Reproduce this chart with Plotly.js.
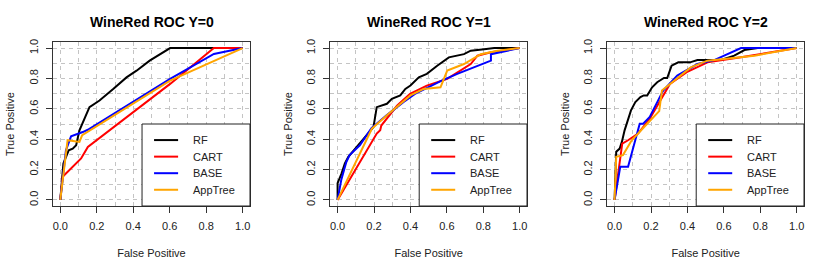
<!DOCTYPE html>
<html>
<head>
<meta charset="utf-8">
<script src="https://cdn.plot.ly/plotly-3.0.1.min.js"></script>
<style>html,body{margin:0;padding:0;background:#fff;}#chart{width:830px;height:260px;}</style>
</head>
<body>
<div id="chart"></div>
<script>
// ---- data ----
const panelTitles = ["WineRed ROC Y=0", "WineRed ROC Y=1", "WineRed ROC Y=2"];
const methods = ["RF", "CART", "BASE", "AppTree"];
const methodColors = ["#000000", "#ff0000", "#0000ff", "#ffa500"];
const tickVals = [0, 0.2, 0.4, 0.6, 0.8, 1.0];

// Y=0
const rf0_x = [0, 0.017, 0.046, 0.068, 0.087, 0.105, 0.16, 0.215, 0.29, 0.363, 0.418, 0.49, 0.602, 1.0];
const rf0_y = [0, 0.24, 0.327, 0.338, 0.36, 0.458, 0.611, 0.655, 0.73, 0.807, 0.851, 0.917, 1.0, 1.0];
const cart0_x = [0, 0.013, 0.114, 0.151, 0.602, 0.842, 1.0];
const cart0_y = [0, 0.153, 0.273, 0.349, 0.764, 1.0, 1.0];
const base0_x = [0, 0.031, 0.059, 0.077, 0.123, 0.151, 0.602, 0.842, 1.0];
const base0_y = [0, 0.327, 0.419, 0.426, 0.447, 0.462, 0.797, 0.961, 1.0];
const app0_x = [0, 0.04, 0.105, 0.12, 0.602, 1.0];
const app0_y = [0, 0.393, 0.382, 0.426, 0.786, 1.0];

// Y=1
const rf1_x = [0, 0, 0.022, 0.04, 0.059, 0.105, 0.197, 0.215, 0.271, 0.298, 0.344, 0.372, 0.4, 0.446, 0.49, 0.547, 0.611, 0.694, 0.731, 0.805, 0.86, 1.0];
const rf1_y = [0, 0.11, 0.175, 0.24, 0.284, 0.35, 0.48, 0.611, 0.633, 0.666, 0.688, 0.731, 0.753, 0.808, 0.83, 0.884, 0.939, 0.96, 0.983, 0.993, 1.0, 1.0];
const cart1_x = [0, 0.215, 0.234, 0.24, 0.326, 0.398, 0.49, 0.602, 0.731, 0.768, 0.842, 1.0];
const cart1_y = [0, 0.437, 0.459, 0.49, 0.62, 0.698, 0.753, 0.797, 0.895, 0.95, 0.972, 1.0];
const base1_x = [0, 0.02, 0.048, 0.066, 0.122, 0.186, 0.269, 0.361, 0.425, 0.563, 0.657, 0.842, 0.842, 1.0];
const base1_y = [0, 0.131, 0.25, 0.295, 0.36, 0.473, 0.557, 0.644, 0.698, 0.781, 0.83, 0.917, 0.96, 1.0];
const app1_x = [0, 0.188, 0.271, 0.4, 0.473, 0.565, 0.602, 0.694, 0.786, 0.878, 1.0];
const app1_y = [0, 0.469, 0.557, 0.688, 0.731, 0.742, 0.852, 0.895, 0.96, 0.983, 1.0];

// Y=2
const rf2_x = [0, 0.009, 0.028, 0.04, 0.055, 0.077, 0.09, 0.114, 0.142, 0.16, 0.179, 0.206, 0.234, 0.271, 0.289, 0.313, 0.35, 0.414, 0.455, 0.584, 0.657, 0.713, 0.786, 1.0];
const rf2_y = [0, 0.317, 0.338, 0.382, 0.458, 0.535, 0.59, 0.644, 0.677, 0.688, 0.688, 0.742, 0.775, 0.803, 0.803, 0.884, 0.906, 0.906, 0.921, 0.921, 0.95, 0.987, 1.0, 1.0];
const cart2_x = [0, 0.031, 0.042, 0.074, 0.129, 0.193, 0.258, 0.304, 0.396, 0.51, 0.694, 1.0];
const cart2_y = [0, 0.262, 0.371, 0.393, 0.437, 0.535, 0.666, 0.764, 0.841, 0.906, 0.939, 1.0];
const base2_x = [0, 0.031, 0.074, 0.138, 0.157, 0.193, 0.258, 0.267, 0.344, 0.455, 0.547, 0.694, 1.0];
const base2_y = [0, 0.218, 0.218, 0.502, 0.502, 0.546, 0.7, 0.72, 0.819, 0.895, 0.921, 1.0, 1.0];
const app2_x = [0, 0.009, 0.046, 0.094, 0.179, 0.245, 0.26, 0.326, 0.418, 0.51, 0.768, 1.0];
const app2_y = [0, 0.284, 0.295, 0.393, 0.502, 0.585, 0.72, 0.786, 0.873, 0.917, 0.95, 1.0];

const panels = [
  [[rf0_x, rf0_y], [cart0_x, cart0_y], [base0_x, base0_y], [app0_x, app0_y]],
  [[rf1_x, rf1_y], [cart1_x, cart1_y], [base1_x, base1_y], [app1_x, app1_y]],
  [[rf2_x, rf2_y], [cart2_x, cart2_y], [base2_x, base2_y], [app2_x, app2_y]]
];

// ---- layout ----
const W = 830, H = 260;
const xDomains = [[53 / W, 250 / W], [330.3 / W, 527 / W], [607.3 / W, 804 / W]];
const yDomain = [1 - 206 / H, 1 - 42 / H];
const FONT = "Liberation Sans, Arial, Helvetica, sans-serif";
const gridCol = "#c4c4c4";

// legend box geometry, as fractions of each plot area ("x domain"/"y domain")
const LEG = {x0: 0.452, x1: 1.0, y0: 0.0, y1: 0.5, lineX0: 0.513, lineX1: 0.635, textX: 0.700, rowTop: 0.402, rowStep: 0.101};

const traces = [];
const layout = {
  width: W, height: H,
  margin: {l: 0, r: 0, t: 0, b: 0},
  paper_bgcolor: "#fff", plot_bgcolor: "#fff",
  font: {family: FONT, size: 11, color: "#000"},
  annotations: [],
  shapes: [],
  showlegend: false
};

panels.forEach((series, p) => {
  const sfx = p === 0 ? "" : String(p + 1);
  const xa = "x" + sfx, ya = "y" + sfx;
  series.forEach((s, m) => {
    traces.push({
      type: "scatter", mode: "lines",
      x: s[0], y: s[1],
      name: methods[m],
      xaxis: xa, yaxis: ya,
      line: {color: methodColors[m], width: 2},
      hoverinfo: "skip"
    });
  });
  const common = {
    range: [-0.04, 1.04],
    tickmode: "array", tickvals: tickVals, tickformat: ".1f",
    ticks: "outside", ticklen: 6, tickwidth: 1, tickcolor: "#333",
    showline: true, linecolor: "#333", linewidth: 1, mirror: true,
    showgrid: true, gridcolor: gridCol, gridwidth: 1, griddash: "4px,4px",
    minor: {dtick: 0.1, tick0: 0, showgrid: true, gridcolor: gridCol, gridwidth: 1, griddash: "4px,4px", ticks: ""},
    zeroline: false, fixedrange: true,
    tickfont: {family: FONT, size: 11, color: "#222"}
  };
  layout["xaxis" + sfx] = Object.assign({}, common, {
    domain: xDomains[p], anchor: ya,
    ticklabelstandoff: 4,
    title: {text: "False Positive", font: {family: FONT, size: 11, color: "#222"}, standoff: 18}
  });
  const yc = JSON.parse(JSON.stringify(common));
  layout["yaxis" + sfx] = Object.assign(yc, {
    domain: yDomain, anchor: xa,
    tickangle: -90,
    ticklabelstandoff: 4,
    title: {text: "True Positive", font: {family: FONT, size: 11, color: "#222"}, standoff: 10}
  });

  // legend (bottom-right, like R's legend("bottomright"))
  const xr = xa + " domain", yr = ya + " domain";
  layout.shapes.push({
    type: "rect", xref: xr, yref: yr,
    x0: LEG.x0, x1: LEG.x1, y0: LEG.y0, y1: LEG.y1,
    line: {color: "#222", width: 1}, fillcolor: "#fff", layer: "above"
  });
  methods.forEach((name, m) => {
    const yy = LEG.rowTop - m * LEG.rowStep;
    layout.shapes.push({
      type: "line", xref: xr, yref: yr,
      x0: LEG.lineX0, x1: LEG.lineX1, y0: yy, y1: yy,
      line: {color: methodColors[m], width: 2}, layer: "above"
    });
    layout.annotations.push({
      text: name, xref: xr, yref: yr, x: LEG.textX, y: yy,
      xanchor: "left", yanchor: "middle", showarrow: false,
      font: {family: FONT, size: 11, color: "#222"}
    });
  });

  layout.annotations.push({
    text: "<b>" + panelTitles[p] + "</b>",
    xref: "paper", yref: "paper",
    x: (xDomains[p][0] + xDomains[p][1]) / 2, y: 1 - 22 / H,
    xanchor: "center", yanchor: "middle", showarrow: false,
    font: {family: FONT, size: 14, color: "#000"}
  });
});

Plotly.newPlot("chart", traces, layout, {staticPlot: true, displayModeBar: false});
</script>
</body>
</html>
